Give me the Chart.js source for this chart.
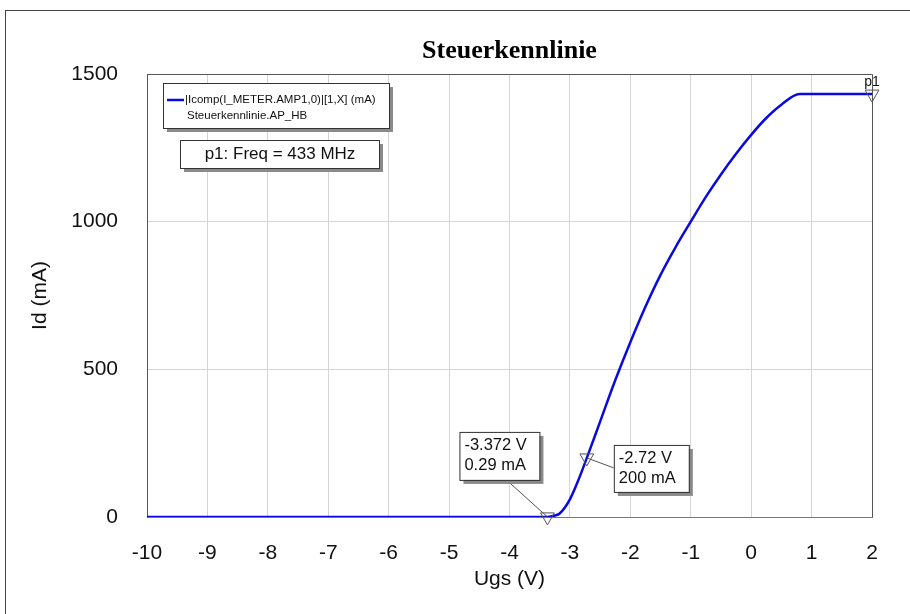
<!DOCTYPE html>
<html>
<head>
<meta charset="utf-8">
<script src="https://cdn.jsdelivr.net/npm/chart.js@4"></script>
<style>
html, body { margin: 0; padding: 0; background: #fff; }
#wrap { width: 910px; height: 614px; }
</style>
</head>
<body>
<div id="wrap"><canvas id="c" width="910" height="614"></canvas></div>
<script>
/* DATA */
const ugs = [-10, -3.5, -3.372, -3.25, -3.17, -3.0, -2.85, -2.72, -2.5, -2.25, -2.0, -1.75, -1.5, -1.25, -1.0, -0.75, -0.5, -0.25, 0.0, 0.25, 0.5, 0.8, 2.0];
const id  = [0, 0, 0.29, 5, 12, 60, 130, 200, 323, 463, 592, 712, 820, 914, 1000, 1084, 1160, 1230, 1294, 1351, 1396, 1432, 1432];

const markerX = [-3.372, -2.72, 2];
const markerY = [0.29, 200, 1432];
const markerText = [["-3.372 V", "0.29 mA"], ["-2.72 V", "200 mA"]];

const xTicks = [-10, -9, -8, -7, -6, -5, -4, -3, -2, -1, 0, 1, 2];
const yTicks = [0, 500, 1000, 1500];

const titleText = "Steuerkennlinie";
const legendLines = ["|Icomp(I_METER.AMP1,0)|[1,X] (mA)", "Steuerkennlinie.AP_HB"];
const freqText = "p1: Freq = 433 MHz";

const BLUE = "#0a0ae0";
const SANS = "'Liberation Sans', Arial, sans-serif";

/* BOX HELPER */
function box(ctx, x, y, w, h) {
ctx.fillStyle = "#8a8a8a";
ctx.fillRect(x + 4, y + 4, w, h);
ctx.fillStyle = "#fff";
ctx.fillRect(x, y, w, h);
ctx.strokeStyle = "#333";
ctx.lineWidth = 1;
ctx.strokeRect(x + 0.5, y + 0.5, w, h);
}

/* DECORATION PLUGIN */
const deco = {
id: "deco",
beforeDraw(chart) {
const ctx = chart.ctx;
ctx.save();
ctx.fillStyle = "#fff";
ctx.fillRect(0, 0, chart.width, chart.height);
ctx.strokeStyle = "#444";
ctx.lineWidth = 1;
ctx.strokeRect(5.5, 10.5, chart.width, chart.height);
ctx.restore();
},
afterDraw(chart) {
const ctx = chart.ctx;
const a = chart.chartArea;
const xs = chart.scales.x, ys = chart.scales.y;
ctx.save();

// frame top / right
ctx.strokeStyle = "#555";
ctx.lineWidth = 1;
ctx.beginPath();
ctx.moveTo(a.left, a.top + 0.5);
ctx.lineTo(a.right + 0.5, a.top + 0.5);
ctx.lineTo(a.right + 0.5, a.bottom);
ctx.stroke();

// title
ctx.fillStyle = "#000";
ctx.font = "bold 26px 'Liberation Serif', 'Times New Roman', serif";
ctx.textAlign = "center";
ctx.textBaseline = "middle";
ctx.fillText(titleText, (a.left + a.right) / 2, 51);

// legend
box(ctx, 163, 83, 226, 45);
ctx.strokeStyle = BLUE;
ctx.lineWidth = 2.5;
ctx.beginPath();
ctx.moveTo(167, 100);
ctx.lineTo(184, 100);
ctx.stroke();
ctx.fillStyle = "#111";
ctx.font = "11.5px " + SANS;
ctx.textAlign = "left";
ctx.fillText(legendLines[0], 185, 100);
ctx.fillText(legendLines[1], 187, 116);

// freq box
box(ctx, 180, 140, 199, 28);
ctx.font = "17px " + SANS;
ctx.fillStyle = "#111";
ctx.textAlign = "center";
ctx.fillText(freqText, 280, 154);

// marker annotations
const offs = [[-88, -85, 80, 48], [27, -13, 75, 47]];
ctx.font = "16.5px " + SANS;
for (let i = 0; i < markerText.length; i++) {
const px = xs.getPixelForValue(markerX[i]);
const py = ys.getPixelForValue(markerY[i]);
const bx = px + offs[i][0], by = py + offs[i][1];
const bw = offs[i][2], bh = offs[i][3];
ctx.strokeStyle = "#555";
ctx.lineWidth = 1;
ctx.beginPath();
if (i === 0) {
ctx.moveTo(bx + 47, by + bh);
} else {
ctx.moveTo(bx, by + 23);
}
ctx.lineTo(px, py);
ctx.stroke();
box(ctx, bx, by, bw, bh);
ctx.fillStyle = "#111";
ctx.textAlign = "left";
ctx.fillText(markerText[i][0], bx + 5, by + 14);
ctx.fillText(markerText[i][1], bx + 5, by + 34);
}

// p1 label
const p1x = xs.getPixelForValue(markerX[2]);
const p1y = ys.getPixelForValue(markerY[2]);
ctx.font = "14px " + SANS;
ctx.fillStyle = "#111";
ctx.textAlign = "center";
ctx.fillText("p1", p1x, p1y - 12);

ctx.restore();
}
};

new Chart(document.getElementById("c"), {
type: "scatter",
data: {
datasets: [
{
data: ugs.map((x, i) => ({ x: x, y: id[i] })),
showLine: true,
borderColor: BLUE,
borderWidth: 2.5,
pointRadius: 0,
cubicInterpolationMode: "monotone",
order: 2
},
{
data: markerX.map((x, i) => ({ x: x, y: markerY[i] })),
showLine: false,
clip: false,
pointStyle: "triangle",
rotation: 180,
pointRadius: 8,
pointBorderWidth: 1,
pointBorderColor: "#555",
pointBackgroundColor: "rgba(255,255,255,0)",
order: 1
}
]
},
plugins: [deco],
options: {
responsive: false,
animation: false,
events: [],
layout: { padding: { top: 74, right: 38, left: 0, bottom: 0 } },
plugins: {
legend: { display: false },
tooltip: { enabled: false },
title: { display: false }
},
scales: {
x: {
type: "linear",
min: -10,
max: 2,
afterBuildTicks: (s) => { s.ticks = xTicks.map(v => ({ value: v })); },
afterFit: (s) => { s.height = 97; },
ticks: {
autoSkip: false,
maxRotation: 0,
padding: 24,
color: "#111",
font: { family: SANS, size: 21 },
callback: (v) => String(v)
},
grid: { color: "#d4d4d4", drawTicks: false },
border: { color: "#777" },
title: {
display: true,
text: "Ugs (V)",
color: "#111",
padding: 22,
font: { family: SANS, size: 21 }
}
},
y: {
type: "linear",
min: 0,
max: 1500,
afterBuildTicks: (s) => { s.ticks = yTicks.map(v => ({ value: v })); },
afterFit: (s) => { s.width = 147; },
ticks: {
padding: 29,
color: "#111",
font: { family: SANS, size: 21 },
callback: (v) => String(v)
},
grid: { color: "#d4d4d4", drawTicks: false },
border: { color: "#555" },
title: {
display: true,
text: "Id (mA)",
color: "#111",
padding: 28,
font: { family: SANS, size: 21 }
}
}
}
}
});
</script>
</body>
</html>
